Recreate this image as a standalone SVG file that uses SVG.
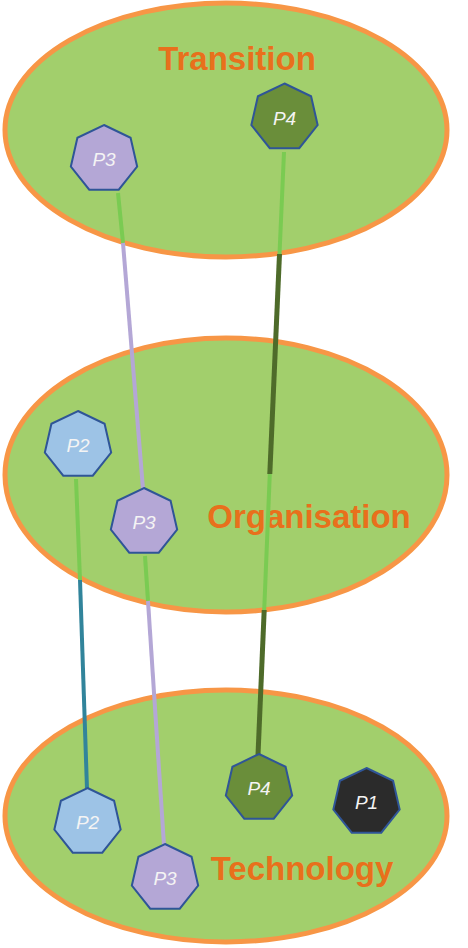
<svg xmlns="http://www.w3.org/2000/svg" xmlns:xlink="http://www.w3.org/1999/xlink" width="468" height="948" viewBox="0 0 468 948">
<style>
.layer{fill:#A2CF6C;stroke:#F79646;stroke-width:5}
.title{font-family:"Liberation Sans",Arial,sans-serif;font-weight:bold;font-size:33px;fill:#E8701C;text-anchor:middle}
.lbl{font-family:"Liberation Sans",Arial,sans-serif;font-style:italic;font-size:19px;fill:#F4F4F4;text-anchor:middle}
.hx{stroke:#2F5597;stroke-width:2}
.lg{stroke:#7ACB52;stroke-width:4;fill:none}
.lav{stroke:#B4A7D6;stroke-width:4;fill:none}
.teal{stroke:#31849B;stroke-width:4;fill:none}
.dg{stroke:#4E6B2A;stroke-width:5;fill:none}
</style>
<defs>
<polygon id="hept" points="0,-34 26.58,-21.2 33.15,7.57 14.75,30.63 -14.75,30.63 -33.15,7.57 -26.58,-21.2"/>
</defs>
<g id="layer-transition">
<ellipse class="layer" cx="226" cy="130" rx="221" ry="127"/>
<text class="title" x="237" y="70">Transition</text>
</g>
<g id="layer-organisation">
<ellipse class="layer" cx="226" cy="475" rx="221" ry="137"/>
<text class="title" x="309" y="528">Organisation</text>
</g>
<g id="layer-technology">
<ellipse class="layer" cx="226" cy="816" rx="221" ry="126"/>
<text class="title" x="302" y="880">Technology</text>
</g>
<g id="connectors">
<line class="lg" x1="118" y1="193" x2="123" y2="243"/>
<line class="lav" x1="123" y1="243" x2="143" y2="489"/>
<line class="lg" x1="145" y1="556" x2="148" y2="601"/>
<line class="lav" x1="148" y1="601" x2="164" y2="845"/>
<line class="lg" x1="76" y1="479" x2="80" y2="580"/>
<line class="teal" x1="80" y1="580" x2="87" y2="789"/>
<line class="lg" x1="284" y1="152" x2="279.5" y2="254"/>
<line class="dg" x1="279.5" y1="254" x2="269.8" y2="474"/>
<line class="lg" x1="269.8" y1="474" x2="264.2" y2="610"/>
<line class="dg" x1="264.2" y1="610" x2="258" y2="755"/>
</g>
<g id="node-p3-transition">
<use xlink:href="#hept" class="hx" fill="#B4A7D6" transform="translate(104,159)"/>
<text class="lbl" x="104" y="166">P3</text>
</g>
<g id="node-p4-transition">
<use xlink:href="#hept" class="hx" fill="#6A8E3A" transform="translate(284.5,117.5)"/>
<text class="lbl" x="284.5" y="124.5">P4</text>
</g>
<g id="node-p2-organisation">
<use xlink:href="#hept" class="hx" fill="#9DC3E6" transform="translate(78,445)"/>
<text class="lbl" x="78" y="452">P2</text>
</g>
<g id="node-p3-organisation">
<use xlink:href="#hept" class="hx" fill="#B4A7D6" transform="translate(144,522)"/>
<text class="lbl" x="144" y="529">P3</text>
</g>
<g id="node-p2-technology">
<use xlink:href="#hept" class="hx" fill="#9DC3E6" transform="translate(87.5,822)"/>
<text class="lbl" x="87.5" y="829">P2</text>
</g>
<g id="node-p3-technology">
<use xlink:href="#hept" class="hx" fill="#B4A7D6" transform="translate(165,878)"/>
<text class="lbl" x="165" y="885">P3</text>
</g>
<g id="node-p4-technology">
<use xlink:href="#hept" class="hx" fill="#6A8E3A" transform="translate(259,788)"/>
<text class="lbl" x="259" y="795">P4</text>
</g>
<g id="node-p1-technology">
<use xlink:href="#hept" class="hx" fill="#2B2B2B" transform="translate(366.5,802)"/>
<text class="lbl" x="366.5" y="809">P1</text>
</g>
</svg>
